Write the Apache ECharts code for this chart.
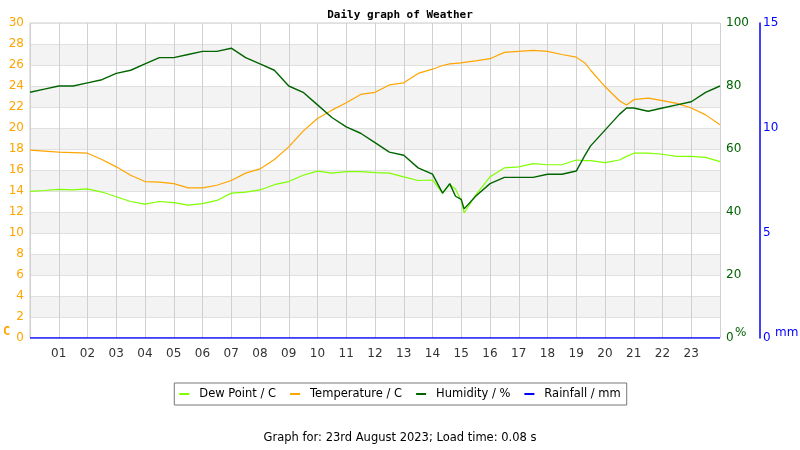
<!DOCTYPE html>
<html>
<head>
<meta charset="utf-8">
<script src="https://cdn.jsdelivr.net/npm/echarts@6/dist/echarts.min.js"></script>
<style>
  html, body { margin: 0; padding: 0; background: #fff; }
  #main { width: 800px; height: 450px; }
</style>
</head>
<body>
<div id="main"></div>
<script>
// hours of the day for each reading
var times = [0, 0.5, 1, 1.5, 2, 2.5, 3, 3.5, 4, 4.5, 5, 5.5, 6, 6.5, 7, 7.5, 8, 8.5, 9, 9.5,
  10, 10.5, 11, 11.5, 12, 12.5, 13, 13.5, 14, 14.35, 14.6, 14.8, 15, 15.1, 15.5,
  16, 16.5, 17, 17.5, 18, 18.5, 19, 19.3, 19.5, 20, 20.5, 20.75,
  21, 21.5, 22, 22.5, 23, 23.5, 24];

var temperature = [17.9, 17.8, 17.7, 17.65, 17.6, 17.0, 16.3, 15.5, 14.9, 14.85, 14.7, 14.3, 14.3, 14.55, 15.0, 15.7, 16.1, 17.0, 18.2, 19.7,
  20.9, 21.7, 22.4, 23.2, 23.4, 24.1, 24.3, 25.2, 25.6, 25.95, 26.1, 26.15, 26.2, 26.25, 26.4,
  26.6, 27.2, 27.3, 27.4, 27.3, 27.0, 26.75, 26.2, 25.5, 23.95, 22.6, 22.2,
  22.7, 22.85, 22.6, 22.35, 21.9, 21.25, 20.3];

var dewPoint = [13.97, 14.05, 14.15, 14.1, 14.2, 13.9, 13.45, 13.0, 12.75, 13.0, 12.9, 12.65, 12.8, 13.1, 13.8, 13.9, 14.1, 14.6, 14.9, 15.5,
  15.9, 15.7, 15.85, 15.85, 15.75, 15.7, 15.35, 15.0, 15.05, 13.8, 14.6, 14.2, 13.1, 11.9, 13.6,
  15.35, 16.2, 16.3, 16.6, 16.5, 16.5, 16.95, 16.9, 16.9, 16.7, 16.95, 17.3,
  17.6, 17.6, 17.5, 17.3, 17.3, 17.2, 16.8];

var humidity = [78, 79, 80, 80, 81, 82, 84, 85, 87, 89, 89, 90, 91, 91, 92, 89, 87, 85, 80, 78,
  74, 70, 67, 65, 62, 59, 58, 54, 52, 46, 49, 45, 44, 41, 45,
  49, 51, 51, 51, 52, 52, 53, 58, 61, 66, 71, 73,
  73, 72, 73, 74, 75, 78, 80];

var rainfall = [];
for (var i = 0; i < times.length; i++) {
  rainfall.push(0);
}

function pairs(values) {
  var out = [];
  for (var i = 0; i < times.length; i++) {
    out.push([times[i], values[i]]);
  }
  return out;
}

var chart = echarts.init(document.getElementById('main'));

var font = 'DejaVu Sans';

var option = {
  animation: false,
  backgroundColor: '#fff',
  title: {
    text: 'Daily graph of Weather',
    left: 'center',
    top: 5,
    textStyle: { fontFamily: 'DejaVu Sans Mono', fontWeight: 'bold', fontSize: 11, color: '#000' }
  },
  legend: {
    top: 383,
    left: 'center',
    itemWidth: 10,
    itemHeight: 2,
    itemGap: 14,
    padding: [5, 6, 5, 5],
    borderColor: '#777',
    borderWidth: 1,
    icon: 'rect',
    textStyle: { fontFamily: font, fontSize: 11.5, color: '#000', padding: [0, 0, 0, 5] },
    data: ['Dew Point / C', 'Temperature / C', 'Humidity / %', 'Rainfall / mm']
  },
  grid: {
    left: 30,
    right: 80,
    top: 23,
    bottom: 112,
    show: true,
    borderColor: '#ccc',
    borderWidth: 1
  },
  xAxis: {
    type: 'value',
    min: 0,
    max: 24,
    interval: 1,
    axisLine: { show: false },
    axisTick: { show: false },
    axisLabel: {
      fontFamily: font,
      fontSize: 12,
      color: '#333',
      margin: 10,
      formatter: function (v) {
        if (v === 0 || v === 24) return '';
        return (v < 10 ? '0' : '') + v;
      }
    },
    splitLine: { show: true, lineStyle: { color: '#d0d0d0' } }
  },
  yAxis: [
    {
      type: 'value',
      min: 0,
      max: 30,
      interval: 2,
      axisLine: { show: false },
      axisTick: { show: false },
      axisLabel: { fontFamily: font, fontSize: 12, color: '#ffa500', margin: 6 },
      splitLine: { show: true, lineStyle: { color: '#e0e0e0' } },
      splitArea: { show: true, areaStyle: { color: ['#ffffff', '#f3f3f3'] } }
    },
    {
      type: 'value',
      position: 'right',
      min: 0,
      max: 100,
      interval: 20,
      axisLine: { show: false },
      axisTick: { show: false },
      axisLabel: { fontFamily: font, fontSize: 12, color: '#006400', margin: 6 },
      splitLine: { show: false }
    },
    {
      type: 'value',
      position: 'right',
      offset: 40,
      min: 0,
      max: 15,
      interval: 5,
      axisLine: { show: true, lineStyle: { color: '#0000ff', width: 1.5 } },
      axisTick: { show: false },
      axisLabel: { fontFamily: font, fontSize: 12, color: '#0000ff', margin: 3 },
      splitLine: { show: false }
    }
  ],
  graphic: [
    { type: 'text', left: 3, top: 326, style: { text: 'C', fill: '#ffa500', font: 'bold 12px DejaVu Sans Mono' } },
    { type: 'text', left: 735, top: 327, style: { text: '%', fill: '#006400', font: '12px DejaVu Sans' } },
    { type: 'text', left: 775, top: 327, style: { text: 'mm', fill: '#0000ff', font: '12px DejaVu Sans' } },
    {
      type: 'text', left: 'center', top: 432,
      style: { text: 'Graph for: 23rd August 2023; Load time: 0.08 s', fill: '#000', font: '11.5px DejaVu Sans' }
    }
  ],
  series: [
    {
      name: 'Dew Point / C',
      type: 'line',
      yAxisIndex: 0,
      showSymbol: false,
      color: '#7fff00',
      lineStyle: { width: 1.2 },
      data: pairs(dewPoint)
    },
    {
      name: 'Temperature / C',
      type: 'line',
      yAxisIndex: 0,
      showSymbol: false,
      color: '#ffa500',
      lineStyle: { width: 1.2 },
      data: pairs(temperature)
    },
    {
      name: 'Humidity / %',
      type: 'line',
      yAxisIndex: 1,
      showSymbol: false,
      color: '#006400',
      lineStyle: { width: 1.4 },
      data: pairs(humidity)
    },
    {
      name: 'Rainfall / mm',
      type: 'line',
      yAxisIndex: 2,
      showSymbol: false,
      color: '#0000ff',
      lineStyle: { width: 1.5 },
      data: pairs(rainfall)
    }
  ]
};

chart.setOption(option);
</script>
</body>
</html>
